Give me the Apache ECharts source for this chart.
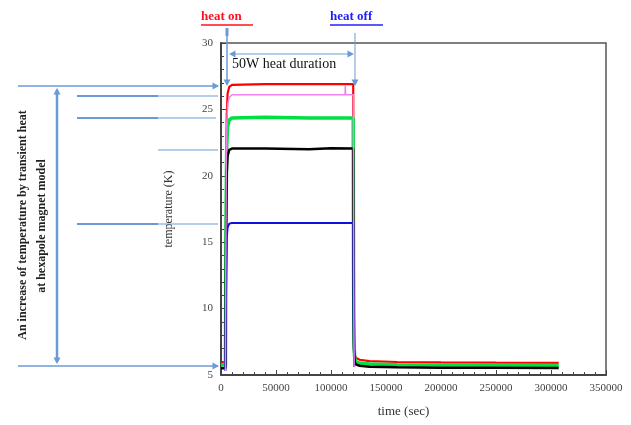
<!DOCTYPE html>
<html>
<head>
<meta charset="utf-8">
<script src="https://cdn.jsdelivr.net/npm/echarts@6/dist/echarts.min.js"></script>
<style>
  html, body { margin: 0; padding: 0; background: #fff; }
  #chart { width: 631px; height: 425px; }
</style>
</head>
<body>
<div id="chart"></div>
<script>
// time (sec) / temperature (K)
const redTime = [0, 4000, 4300, 4700, 5200, 6000, 7500, 10000, 40000, 80000, 120200, 120500, 120900, 121500, 122500, 126000, 135000, 160000, 200000, 250000, 307000];
const redTemp = [5.95, 5.95, 12, 20, 24.5, 26.2, 26.7, 26.85, 26.9, 26.9, 26.9, 14, 8, 6.6, 6.3, 6.15, 6.05, 5.98, 5.95, 5.93, 5.92];

const pinkTime = [4000, 4300, 4700, 5200, 6000, 7500, 10000, 60000, 112800, 113000, 113300, 120300, 120600, 121000];
const pinkTemp = [5.3, 12, 19.5, 23.8, 25.4, 25.9, 26.1, 26.1, 26.1, 26.8, 26.1, 26.1, 12, 5.6];

const greenTime = [0, 4000, 4300, 4700, 5200, 6000, 7500, 10000, 40000, 80000, 120200, 120500, 120900, 121500, 122500, 126000, 135000, 160000, 200000, 250000, 307000];
const greenTemp = [5.75, 5.75, 11, 18, 22.2, 23.7, 24.2, 24.35, 24.4, 24.35, 24.35, 13, 7.5, 6.3, 6.0, 5.9, 5.82, 5.78, 5.76, 5.75, 5.74];

const blackTime = [0, 4000, 4300, 4700, 5200, 6000, 7500, 10000, 40000, 80000, 100000, 120200, 120500, 120900, 121500, 122500, 126000, 135000, 160000, 200000, 250000, 307000];
const blackTemp = [5.5, 5.5, 10, 16.5, 20.2, 21.5, 21.95, 22.05, 22.05, 22.0, 22.08, 22.05, 12, 7, 6.0, 5.8, 5.7, 5.62, 5.58, 5.55, 5.54, 5.53];

const blueTime = [4000, 4300, 4700, 5200, 6000, 7500, 10000, 60000, 120300, 120600, 121000];
const blueTemp = [5.3, 9, 13, 15.3, 16.1, 16.4, 16.45, 16.45, 16.45, 9, 5.6];

const xTicks = { min: 0, max: 350000, interval: 50000 };
const yTicks = { min: 5, max: 30, interval: 5 };

function pairs(t, v) { return t.map((x, i) => [x, v[i]]); }

const chart = echarts.init(document.getElementById('chart'));
const serif = 'Liberation Serif';
const arrowBlue = '#6a9bd4';

function seg(x1, y1, x2, y2, w) {
  return { type: 'line', shape: { x1: x1, y1: y1, x2: x2, y2: y2 }, style: { stroke: arrowBlue, lineWidth: w || 1.5 }, z: 100 };
}
function head(x, y, dir) {
  // small filled arrowhead: dir = 'r','l','u','d'
  const s = 5;
  let pts;
  if (dir === 'r') pts = [[x, y], [x - s * 1.3, y - s * 0.7], [x - s * 1.3, y + s * 0.7]];
  if (dir === 'l') pts = [[x, y], [x + s * 1.3, y - s * 0.7], [x + s * 1.3, y + s * 0.7]];
  if (dir === 'd') pts = [[x, y], [x - s * 0.7, y - s * 1.3], [x + s * 0.7, y - s * 1.3]];
  if (dir === 'u') pts = [[x, y], [x - s * 0.7, y + s * 1.3], [x + s * 0.7, y + s * 1.3]];
  return { type: 'polygon', shape: { points: pts }, style: { fill: arrowBlue }, z: 101 };
}

const lineSeries = (name, t, v, color, w) => ({
  name: name, type: 'line', data: pairs(t, v), showSymbol: false, symbol: 'none',
  lineStyle: { color: color, width: w }, itemStyle: { color: color }, animation: false
});

chart.setOption({
  backgroundColor: '#fff',
  animation: false,
  grid: { left: 221, right: 25, top: 43, bottom: 50, show: true, borderColor: '#555', borderWidth: 1.5, backgroundColor: 'transparent' },
  xAxis: {
    type: 'value', min: xTicks.min, max: xTicks.max, interval: xTicks.interval,
    name: 'time (sec)', nameLocation: 'middle', nameGap: 30,
    nameTextStyle: { fontFamily: serif, fontSize: 13, color: '#333', padding: [0, 20, 0, 0] },
    axisLine: { show: true, lineStyle: { color: '#444', width: 2 } },
    axisTick: { show: true, inside: true, length: 5, lineStyle: { color: '#444' } },
    minorTick: { show: true, splitNumber: 5, length: 3, lineStyle: { color: '#444' } },
    axisLabel: { fontFamily: serif, fontSize: 11, color: '#444', margin: 8, formatter: v => String(v) },
    splitLine: { show: false }
  },
  yAxis: {
    type: 'value', min: yTicks.min, max: yTicks.max, interval: yTicks.interval,
    name: 'temperature (K)', nameLocation: 'middle', nameGap: 46, nameRotate: 90,
    nameTextStyle: { fontFamily: serif, fontSize: 12, color: '#333' },
    axisLine: { show: true, lineStyle: { color: '#444', width: 2 } },
    axisTick: { show: true, inside: true, length: 5, lineStyle: { color: '#444' } },
    minorTick: { show: true, splitNumber: 5, length: 3, lineStyle: { color: '#444' } },
    axisLabel: { fontFamily: serif, fontSize: 11, color: '#444', margin: 8, formatter: v => String(v) },
    splitLine: { show: false }
  },
  series: [
    lineSeries('red', redTime, redTemp, '#ff0000', 2.2),
    lineSeries('green', greenTime, greenTemp, '#00e040', 3.5),
    lineSeries('black', blackTime, blackTemp, '#000000', 2.5),
    lineSeries('blue', blueTime, blueTemp, '#1010e0', 2),
    lineSeries('pink', pinkTime, pinkTemp, '#ee82ee', 1.5)
  ],
  graphic: [
    // left annotation lines
    seg(18, 86, 218, 86, 1.5), head(219, 86, 'r'),
    seg(77, 96, 158, 96, 2), seg(158, 96, 218, 96, 1),
    seg(77, 118, 158, 118, 2), seg(158, 118, 216, 118, 1),
    seg(158, 150, 218, 150, 1),
    seg(77, 224, 158, 224, 2), seg(158, 224, 218, 224, 1),
    seg(18, 366, 218, 366, 1.5), head(219, 366, 'r'),
    seg(57, 90, 57, 362, 2.5), head(57, 88, 'u'), head(57, 364, 'd'),
    // heat on / off markers
    seg(227, 30, 227, 84, 1.5), head(227, 86, 'd'),
    { type: 'rect', shape: { x: 225.5, y: 28, width: 3, height: 8 }, style: { fill: arrowBlue }, z: 100 },
    seg(355, 33, 355, 84, 1), head(355, 86, 'd'),
    seg(231, 54, 352, 54, 1.2), head(229, 54, 'l'), head(354, 54, 'r'),
    {
      type: 'text', x: 232, y: 57, z: 102,
      style: { text: '50W heat duration', font: '14px "Liberation Serif"', fill: '#111', textAlign: 'left', textVerticalAlign: 'top' }
    },
    {
      type: 'text', x: 201, y: 17, z: 102,
      style: { text: 'heat on', font: 'bold 13px "Liberation Serif"', fill: '#ff1020', textAlign: 'left', textVerticalAlign: 'middle' }
    },
    { type: 'line', shape: { x1: 201, y1: 25, x2: 253, y2: 25 }, style: { stroke: '#ff1020', lineWidth: 1.5 }, z: 102 },
    {
      type: 'text', x: 330, y: 17, z: 102,
      style: { text: 'heat off', font: 'bold 13px "Liberation Serif"', fill: '#2020ff', textAlign: 'left', textVerticalAlign: 'middle' }
    },
    { type: 'line', shape: { x1: 330, y1: 25, x2: 383, y2: 25 }, style: { stroke: '#2020ff', lineWidth: 1.5 }, z: 102 },
    // rotated explanation text
    {
      type: 'text', x: 23, y: 225, rotation: Math.PI / 2, z: 102,
      style: { text: 'An increase of temperature by transient heat', font: 'bold 12px "Liberation Serif"', fill: '#222', textAlign: 'center', textVerticalAlign: 'middle' }
    },
    {
      type: 'text', x: 42, y: 226, rotation: Math.PI / 2, z: 102,
      style: { text: 'at hexapole magnet model', font: 'bold 12px "Liberation Serif"', fill: '#222', textAlign: 'center', textVerticalAlign: 'middle' }
    }
  ]
});
</script>
</body>
</html>
